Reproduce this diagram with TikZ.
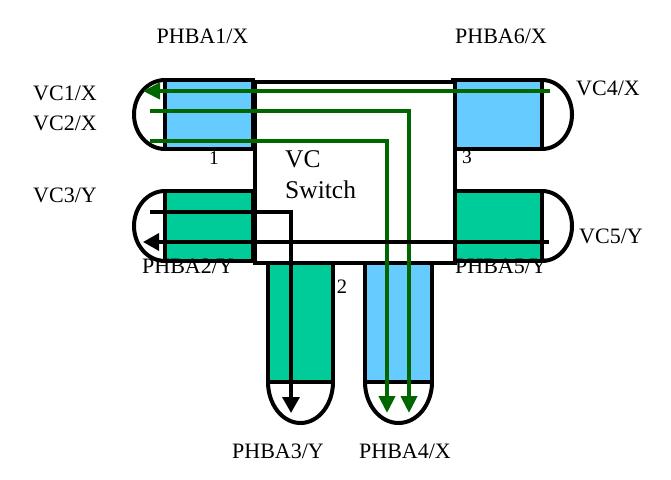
\documentclass[tikz,border=0pt]{standalone}
\usepackage{fontspec}
\setmainfont{Liberation Serif}
\usetikzlibrary{arrows.meta}
\definecolor{portblue}{RGB}{102,204,255}
\definecolor{portgreen}{RGB}{0,204,153}
\definecolor{vcgreen}{RGB}{0,102,0}
\begin{document}
\begin{tikzpicture}[x=1pt,y=1pt,
  outline/.style={draw=black,line width=4pt},
  vcx/.style={draw=vcgreen,line width=4pt,-{Triangle[length=17pt,width=16pt]}},
  vcy/.style={draw=black,line width=3.5pt,-{Triangle[length=16pt,width=17pt]}},
  lab/.style={font=\fontsize{22}{26}\selectfont,anchor=base,inner sep=0pt},
  num/.style={font=\fontsize{19.5}{23}\selectfont,anchor=base,inner sep=0pt}]
\useasboundingbox (0,0) rectangle (671,-479);
% ports
\path[outline,fill=portblue] (165,-80) rectangle (253,-149);
\path[outline] (165,-80) arc[start angle=90,end angle=270,x radius=31pt,y radius=34.5pt];
\path[outline,fill=portgreen] (165,-191) rectangle (253,-261);
\path[outline] (165,-191) arc[start angle=90,end angle=270,x radius=31pt,y radius=35pt];
\path[outline,fill=portblue] (453,-80) rectangle (542,-149);
\path[outline] (542,-80) arc[start angle=90,end angle=-90,x radius=30pt,y radius=34.5pt];
\path[outline,fill=portgreen] (453,-191) rectangle (542,-261);
\path[outline] (542,-191) arc[start angle=90,end angle=-90,x radius=30pt,y radius=35pt];
\path[outline,fill=portgreen] (268,-261) rectangle (333,-382);
\path[outline] (268,-382) arc[start angle=180,end angle=360,x radius=32.5pt,y radius=41pt];
\path[outline,fill=portblue] (365,-261) rectangle (432,-382);
\path[outline] (365,-382) arc[start angle=180,end angle=360,x radius=33.5pt,y radius=41pt];
% switch
\node[outline,fill=white,minimum width=200pt,minimum height=181pt,inner sep=0pt,anchor=north west] (sw) at (253,-80) {};
\node[font=\fontsize{25.5}{31}\selectfont,align=left,anchor=base west,inner sep=0pt] (swl) at (285,-198) {VC\\Switch};
% endpoints
\coordinate (s4) at (550,-91);   \coordinate (e4) at (143,-91);
\coordinate (s1) at (150,-111);  \coordinate (b1) at (409,-111); \coordinate (e1) at (409,-413);
\coordinate (s2) at (150,-141);  \coordinate (b2) at (387,-141); \coordinate (e2) at (387,-413);
\coordinate (s3) at (150,-212);  \coordinate (b3) at (291,-212); \coordinate (e3) at (291,-413);
\coordinate (s5) at (549,-242);  \coordinate (e5) at (143,-242);
\draw[vcx] (s4) -- (e4);
\draw[vcx] (s1) -- (b1) -- (e1);
\draw[vcx] (s2) -- (b2) -- (e2);
\draw[vcy] (s3) -- (b3) -- (e3);
\draw[vcy] (s5) -- (e5);
% labels
\node[lab] (l1) at (202.5,-43) {PHBA1/X};
\node[lab] (l6) at (501,-43) {PHBA6/X};
\node[lab] (v1) at (65,-100) {VC1/X};
\node[lab] (v2) at (65,-130) {VC2/X};
\node[lab] (v3) at (65,-202) {VC3/Y};
\node[lab] (v4) at (608,-95) {VC4/X};
\node[lab] (v5) at (611,-243) {VC5/Y};
\node[lab] (l2) at (188,-273) {PHBA2/Y};
\node[lab] (l5) at (501,-273) {PHBA5/Y};
\node[lab] (l3) at (278,-458) {PHBA3/Y};
\node[lab] (l4) at (405,-458) {PHBA4/X};
\node[num] (n1) at (214,-164) {1};
\node[num] (n3) at (467,-163) {3};
\node[num,font=\fontsize{20.5}{24}\selectfont] (n2) at (342,-293) {2};
\end{tikzpicture}
\end{document}
